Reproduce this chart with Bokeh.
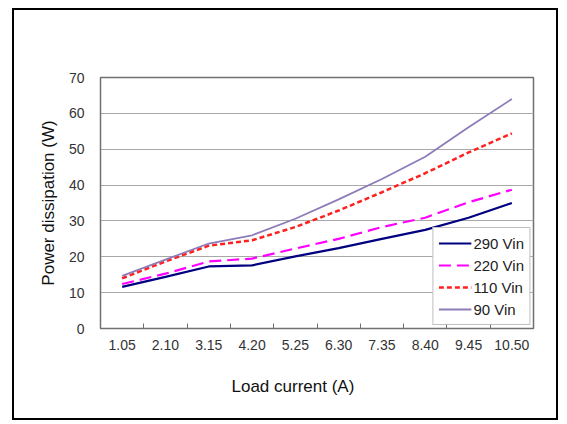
from bokeh.plotting import figure
from bokeh.models import FixedTicker, Legend, LegendItem, Title
from bokeh.embed import file_html
from bokeh.resources import INLINE

x_labels = ["1.05", "2.10", "3.15", "4.20", "5.25", "6.30", "7.35", "8.40", "9.45", "10.50"]
v290 = [11.6, 14.4, 17.3, 17.6, 20.1, 22.4, 25.0, 27.5, 30.9, 35.0]
v220 = [12.4, 15.3, 18.7, 19.5, 22.3, 25.0, 28.3, 30.9, 35.2, 38.7]
v110 = [14.0, 18.7, 23.1, 24.6, 28.3, 32.9, 38.0, 43.3, 49.1, 54.4]
v90 = [14.7, 19.2, 23.7, 26.0, 30.6, 36.0, 41.7, 47.9, 56.1, 64.0]
y_ticks = [0, 10, 20, 30, 40, 50, 60, 70]

xs = list(range(1, len(x_labels) + 1))
FONT = "Liberation Sans"

p = figure(width=546, height=412, output_backend="svg", toolbar_location=None,
           x_range=(0.5, len(x_labels) + 0.5), y_range=(0, 70),
           min_border_left=86, min_border_right=27, min_border_top=67, min_border_bottom=94,
           margin=(8, 0, 0, 12), styles={"border": "2px solid black"})

p.outline_line_color = "#707070"
p.outline_line_width = 1.5

p.xaxis.ticker = FixedTicker(ticks=xs, minor_ticks=[i + 0.5 for i in xs[:-1]])
p.xaxis.major_label_overrides = {i: lab for i, lab in zip(xs, x_labels)}
p.xaxis.major_tick_line_color = None
p.xaxis.minor_tick_in = 5
p.xaxis.minor_tick_out = 0
p.xaxis.minor_tick_line_color = "#707070"
p.xaxis.axis_line_color = "#707070"
p.xaxis.major_label_standoff = 5
p.xgrid.grid_line_color = None

p.yaxis.ticker = FixedTicker(ticks=y_ticks)
p.yaxis.major_tick_line_color = None
p.yaxis.minor_tick_line_color = None
p.yaxis.axis_line_color = "#707070"
p.yaxis.major_label_standoff = 10
p.ygrid.grid_line_color = "#a8a8a8"
p.ygrid.grid_line_width = 1.2

for ax in (p.xaxis, p.yaxis):
    ax.major_label_text_font = FONT
    ax.major_label_text_font_size = "14px"
    ax.major_label_text_color = "#333333"
    ax.axis_label_text_font = FONT
    ax.axis_label_text_font_size = "17px"
    ax.axis_label_text_font_style = "normal"
    ax.axis_label_text_color = "#111111"

p.yaxis.axis_label = "Power dissipation (W)"
p.yaxis.axis_label_standoff = 8

p.add_layout(Title(text="Load current (A)", align="left", offset=131, standoff=44,
                   text_font=FONT, text_font_size="17px", text_font_style="normal",
                   text_color="#111111"), "below")

r290 = p.line(xs, v290, line_color="#000080", line_width=2.2)
r220 = p.line(xs, v220, line_color="#ff00ff", line_width=2.2, line_dash="12 6")
r110 = p.line(xs, v110, line_color="#ff2020", line_width=2.5, line_dash="5 3")
r90 = p.line(xs, v90, line_color="#8e7cb8", line_width=1.8)

legend = Legend(items=[LegendItem(label="290 Vin", renderers=[r290]),
                       LegendItem(label="220 Vin", renderers=[r220]),
                       LegendItem(label="110 Vin", renderers=[r110]),
                       LegendItem(label="90 Vin", renderers=[r90])],
                location="bottom_right", margin=3, padding=5, spacing=2,
                glyph_width=33, glyph_height=20, label_standoff=2,
                label_text_font=FONT, label_text_font_size="15px",
                label_text_color="#222222",
                border_line_color="#808080", border_line_width=1.2,
                background_fill_color="white", background_fill_alpha=1.0)
p.add_layout(legend)

open("out.html", "w").write(file_html(p, INLINE))
